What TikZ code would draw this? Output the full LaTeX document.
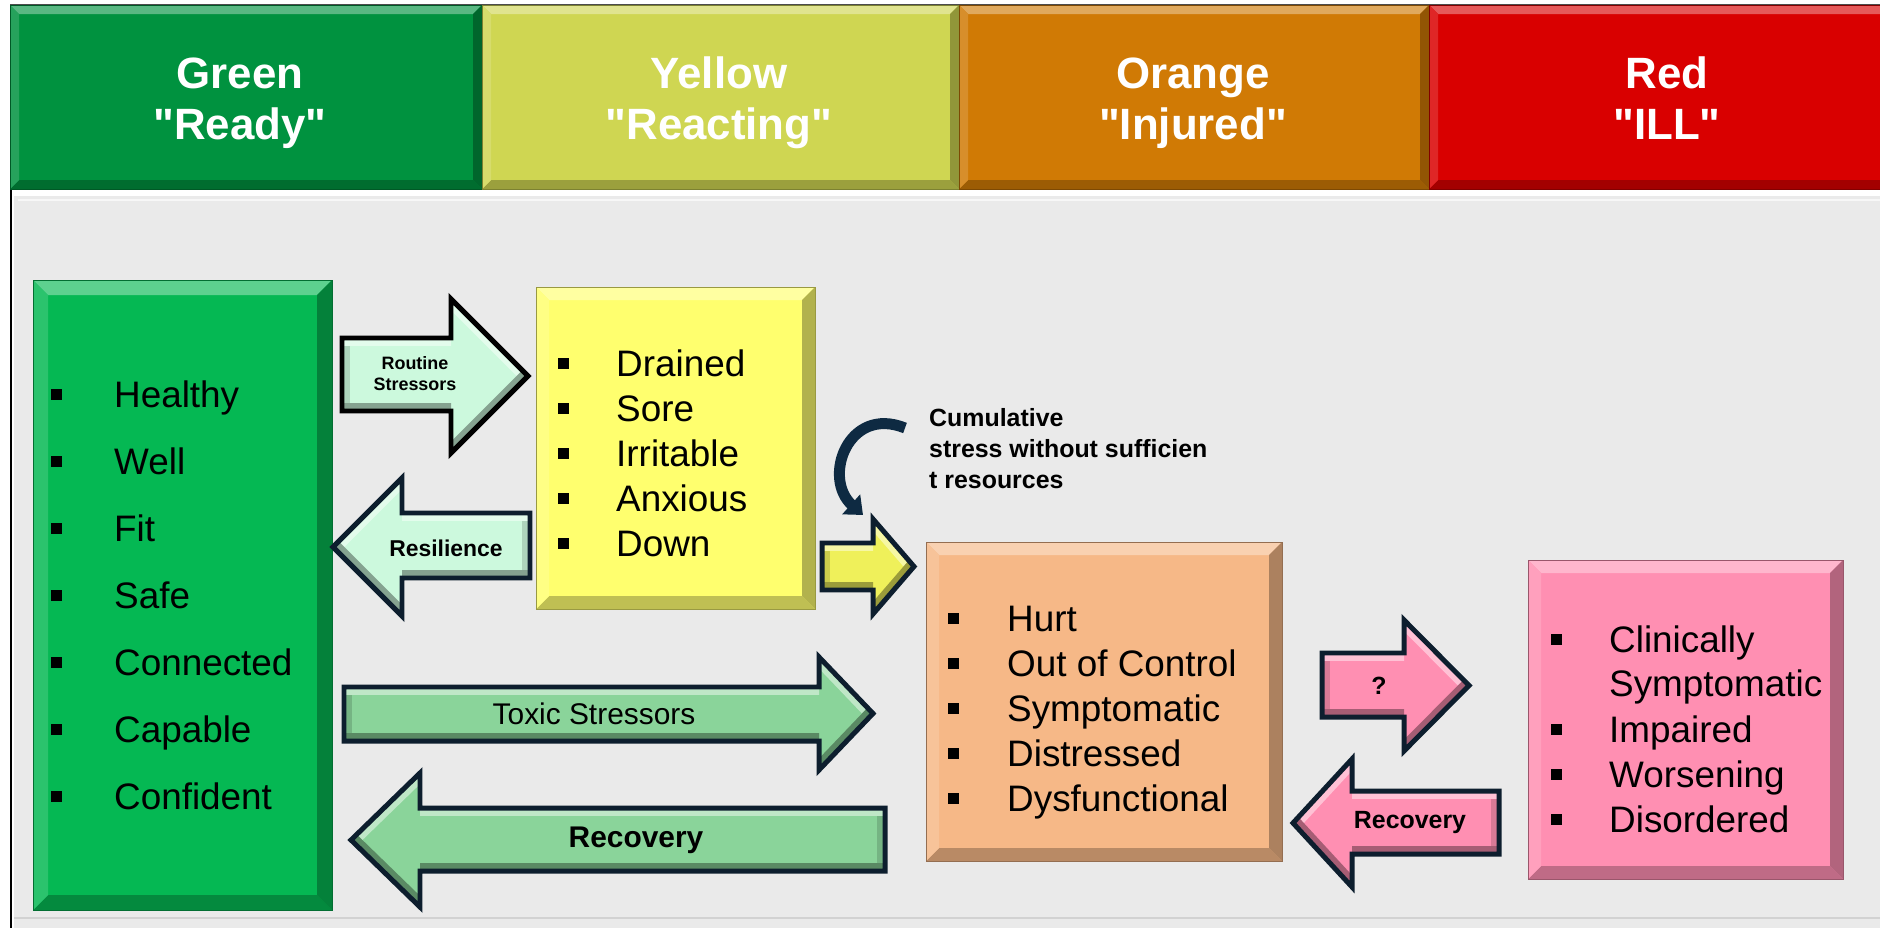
\documentclass[tikz,border=0pt]{standalone}
\usepackage{fontspec}
\setmainfont{Liberation Sans}[Ligatures=TeXOff]
\usetikzlibrary{arrows.meta}
\definecolor{hgreen}{HTML}{00923F}
\definecolor{hyellow}{HTML}{CFD652}
\definecolor{horange}{HTML}{D07A05}
\definecolor{hred}{HTML}{D90000}
\definecolor{bgreen}{HTML}{05B853}
\definecolor{byellow}{HTML}{FFFF6E}
\definecolor{borange}{HTML}{F6B887}
\definecolor{bpink}{HTML}{FF8FB2}
\definecolor{amint}{HTML}{CCF9DD}
\definecolor{agreen}{HTML}{8AD49A}
\definecolor{ayellow}{HTML}{EFF05A}
\definecolor{navy}{HTML}{0D1E2E}
\definecolor{panel}{HTML}{EAEAEA}
\definecolor{curvec}{HTML}{0E2A42}
% bevelled rectangle: x1,y1,x2,y2,colour,bevel
\newcommand\bevbox[6]{%
  \fill[#5] (#1,#2) rectangle (#3,#4);
  \fill[#5!65!white] (#1,#2) -- (#3,#2) -- ({#3-#6},{#2+#6}) -- ({#1+#6},{#2+#6}) -- cycle;
  \fill[#5!75!black] (#1,#4) -- (#3,#4) -- ({#3-#6},{#4-#6}) -- ({#1+#6},{#4-#6}) -- cycle;
  \fill[#5!85!white] (#1,#2) -- ({#1+#6},{#2+#6}) -- ({#1+#6},{#4-#6}) -- (#1,#4) -- cycle;
  \fill[#5!70!black] (#3,#2) -- ({#3-#6},{#2+#6}) -- ({#3-#6},{#4-#6}) -- (#3,#4) -- cycle;
  \draw[#5!60!black, line width=0.8] (#1,#2) rectangle (#3,#4);
}
% block arrow: tail, base, tip, body top, body bottom, head top, head bottom, fill, border
\newcommand\blockarrow[9]{%
  \begin{scope}
    \clip (#1,#4) -- (#2,#4) -- (#2,#6) -- (#3,{(#6+#7)/2}) -- (#2,#7) -- (#2,#5) -- (#1,#5) -- cycle;
    \fill[#8] (#1,#6) rectangle (#3,#7);
    \draw[line width=16, #8!85!black] (#1,#4) -- (#1,#5);
    \draw[line width=16, #8!55!white] (#1,#4) -- (#2,#4) (#2,#6) -- (#3,{(#6+#7)/2});
    \draw[line width=16, #8!65!black] (#1,#5) -- (#2,#5) (#2,#7) -- (#3,{(#6+#7)/2});
  \end{scope}
  \draw[#9, line width=5, line join=miter] (#1,#4) -- (#2,#4) -- (#2,#6) -- (#3,{(#6+#7)/2}) -- (#2,#7) -- (#2,#5) -- (#1,#5) -- cycle;
}
\begin{document}
\begin{tikzpicture}[x=1bp,y=-1bp,
  item/.style={anchor=base west, inner sep=0, font=\fontsize{37}{45}\selectfont},
  hdr/.style={anchor=base, inner sep=0, text=white, font=\bfseries\fontsize{44}{52}\selectfont},
  arrtxt/.style={inner sep=0, font=\bfseries\fontsize{24}{28}\selectfont},
  bul/.style={fill=black}]
\useasboundingbox (0,0) rectangle (1880,928);
\clip (0,0) rectangle (1880,928);
\fill[white] (0,0) rectangle (1880,928);
% panel
\fill[panel] (14,196) rectangle (1880,928);
\draw[white!60!panel, line width=2] (18,200) -- (1880,200);
\draw[gray!35, line width=2] (14,918) -- (1880,918);
\draw[black, line width=2] (11,186) -- (11,928);
% header
\draw[black!70, line width=1.5] (10,5) -- (1880,5);
\bevbox{10}{5}{482}{189}{hgreen}{9}
\bevbox{482}{5}{959}{189}{hyellow}{9}
\bevbox{959}{5}{1429}{189}{horange}{9}
\bevbox{1429}{5}{1895}{189}{hred}{9}
\node[hdr] (hg) at (240,88) {\begin{tabular}[t]{@{}c@{}}Green\\"Ready"\end{tabular}};
\node[hdr] (hy) at (719,88) {\begin{tabular}[t]{@{}c@{}}Yellow\\"Reacting"\end{tabular}};
\node[hdr] (ho) at (1193,88) {\begin{tabular}[t]{@{}c@{}}Orange\\"Injured"\end{tabular}};
\node[hdr] (hr) at (1667,88) {\begin{tabular}[t]{@{}c@{}}Red\\"ILL"\end{tabular}};
% boxes
\bevbox{33}{280}{332}{910}{bgreen}{15}
\bevbox{536}{287}{815}{609}{byellow}{13}
\bevbox{926}{542}{1282}{861}{borange}{13}
\bevbox{1528}{560}{1843}{879}{bpink}{13}
% lists
\foreach \t [count=\i from 0] in {Healthy,Well,Fit,Safe,Connected,Capable,Confident}{
  \fill[bul] (51,{407+67*\i-18.5}) rectangle +(11,11);
  \node[item] (g\i) at (114,{407+67*\i}) {\t};
}
\foreach \t [count=\i from 0] in {Drained,Sore,Irritable,Anxious,Down}{
  \fill[bul] (558,{376+45*\i-18.5}) rectangle +(11,11);
  \node[item] (y\i) at (616,{376+45*\i}) {\t};
}
\foreach \t [count=\i from 0] in {Hurt,Out of Control,Symptomatic,Distressed,Dysfunctional}{
  \fill[bul] (948,{631+45*\i-18.5}) rectangle +(11,11);
  \node[item] (o\i) at (1007,{631+45*\i}) {\t};
}
\fill[bul] (1551,{652-18.5}) rectangle +(11,11);
\node[item] (r0) at (1609,652) {\begin{tabular}[t]{@{}l@{}}Clinically\\Symptomatic\end{tabular}};
\foreach \t [count=\i from 0] in {Impaired,Worsening,Disordered}{
  \fill[bul] (1551,{742+45*\i-18.5}) rectangle +(11,11);
  \node[item] (r\i x) at (1609,{742+45*\i}) {\t};
}
% block arrows
\blockarrow{342}{451}{528}{338}{411}{299}{453}{amint}{black}
\blockarrow{530}{402}{333}{513}{578}{478}{616}{amint}{navy}
\blockarrow{822}{873}{914}{543}{590}{519}{614}{ayellow}{navy}
\blockarrow{344}{819}{873}{687}{741}{657}{770}{agreen}{navy}
\blockarrow{885}{420}{351}{808}{871}{773}{907}{agreen}{navy}
\blockarrow{1322}{1404}{1469}{653}{717}{620}{751}{bpink}{navy}
\blockarrow{1499}{1352}{1293}{791}{854}{759}{887}{bpink}{navy}
% arrow labels
\node[arrtxt, font=\bfseries\fontsize{18}{21}\selectfont] (routine) at (415,376) {\begin{tabular}{@{}c@{}}Routine\\Stressors\end{tabular}};
\node[arrtxt, font=\bfseries\fontsize{23}{27}\selectfont] (resil) at (446,548) {Resilience};
\node[arrtxt, font=\fontsize{30}{34}\selectfont] (toxic) at (594,714) {Toxic Stressors};
\node[arrtxt, font=\bfseries\fontsize{30}{34}\selectfont] (recg) at (636,840) {Recovery};
\node[arrtxt, font=\bfseries\fontsize{25}{29}\selectfont] (qm) at (1379,686) {?};
\node[arrtxt, font=\bfseries\fontsize{25}{29}\selectfont] (recp) at (1410,823) {Recovery};
% curved arrow and note
\coordinate (cs) at (905,428);
\coordinate (ce) at (863,515);
\draw[curvec, line width=11, -{Triangle[length=16pt,width=26pt]}] (cs) .. controls (848,405) and (822,478) .. (ce);
\node[anchor=base west, inner sep=0, font=\bfseries\fontsize{25}{31.5}\selectfont] (cum) at (929,426) {\begin{tabular}[t]{@{}l@{}}Cumulative\\stress without sufficien\\t resources\end{tabular}};
\end{tikzpicture}
\end{document}
